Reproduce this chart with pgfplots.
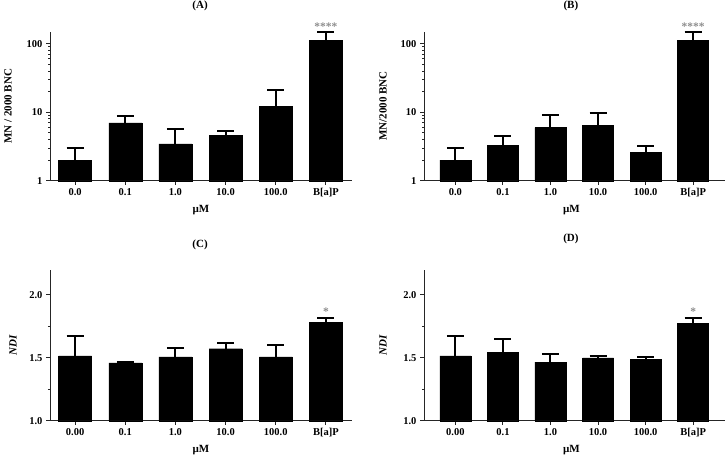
\documentclass[border=0pt]{standalone}
\usepackage{pgfplots}
\pgfplotsset{compat=1.18}
\usepackage{pgfplotstable}
\usepackage{fontspec}
\setmainfont{Liberation Serif}

\pgfplotstableread{
x y e
0 2.0 1.0
1 7.0 1.7
2 3.45 2.25
3 4.6 0.7
4 12.3 8.6
5 112 35
}\dataA
\pgfplotstableread{
x y e
0 2.0 1.0
1 3.25 1.25
2 5.95 3.05
3 6.5 3.1
4 2.62 0.62
5 112 35
}\dataB
\pgfplotstableread{
x y e
0 1.515 0.155
1 1.46 0.01
2 1.508 0.072
3 1.572 0.045
4 1.508 0.096
5 1.78 0.04
}\dataC
\pgfplotstableread{
x y e
0 1.515 0.155
1 1.542 0.104
2 1.466 0.068
3 1.500 0.016
4 1.487 0.023
5 1.776 0.043
}\dataD

\tikzset{stars/.style={text=black!45, font=\fontsize{11.5}{12}\selectfont\bfseries, inner sep=0pt}}

\pgfplotsset{
  panel/.style={
    scale only axis,
    axis lines=left,
    axis line style={line width=1pt,-,black!85},
    tick style={line width=1pt,black!85},
    tick align=outside,
    major tick length=4pt,
    minor tick length=2pt,
    xtick={0,...,5},
    clip=false,
    ticklabel style={font=\fontsize{10.5}{12}\selectfont\bfseries},
    label style={font=\fontsize{11}{13}\selectfont\bfseries},
    title style={font=\fontsize{11}{12}\selectfont\bfseries, anchor=center},
    ylabel style={anchor=center},
    xlabel style={anchor=center},
  },
  barstyle/.style={
    ybar, fill=black, draw=black,
    error bars/.cd, y dir=plus, y explicit,
    error bar style={line width=2pt, black},
    error mark options={rotate=90, line width=2pt, black, mark size=8.5pt},
  },
}

\begin{document}
\begin{tikzpicture}
\useasboundingbox (0,0) rectangle (727pt,456pt);

% (A)
\begin{axis}[panel,
  at={(50pt,275.3pt)}, anchor=south west,
  width=302pt, height=149pt,
  ymode=log, ymin=1, ymax=150,
  ytick={1,10,100}, yticklabels={1,10,100},
  xmin=-0.5, xmax=5.52,
  xticklabels={0.0,0.1,1.0,10.0,100.0,B[a]P},
  bar width=33pt,
  title={(A)}, title style={at={(axis description cs:0.497,1.132)}},
  ylabel={MN / 2000 BNC}, ylabel style={at={(axis description cs:-0.139,0.5)}},
  xlabel={µM}, xlabel style={at={(axis description cs:0.5,-0.197)}},
]
\addplot[barstyle] table[x=x,y=y,y error=e] {\dataA};
\node[stars] at (axis cs:5,147) [yshift=6pt] {****};
\end{axis}

% (B)
\begin{axis}[panel,
  at={(424pt,275.3pt)}, anchor=south west,
  width=301pt, height=149pt,
  ymode=log, ymin=1, ymax=150,
  ytick={1,10,100}, yticklabels={1,10,100},
  xmin=-0.66, xmax=5.67,
  xticklabels={0.0,0.1,1.0,10.0,100.0,B[a]P},
  bar width=31pt,
  title={(B)}, title style={at={(axis description cs:0.488,1.132)}},
  ylabel={MN/2000 BNC}, ylabel style={at={(axis description cs:-0.136,0.5)}},
  xlabel={µM}, xlabel style={at={(axis description cs:0.49,-0.197)}},
]
\addplot[barstyle] table[x=x,y=y,y error=e] {\dataB};
\node[stars] at (axis cs:5,147) [yshift=6pt] {****};
\end{axis}

% (C)
\begin{axis}[panel,
  at={(50pt,35.3pt)}, anchor=south west,
  width=302pt, height=151pt,
  ymin=1.0, ymax=2.2,
  ytick={1.0,1.5,2.0}, yticklabels={1.0,1.5,2.0},
  minor ytick={1.25,1.75},
  xmin=-0.5, xmax=5.52,
  xticklabels={0.00,0.1,1.0,10.0,100.0,B[a]P},
  bar width=33pt,
  title={(C)}, title style={at={(axis description cs:0.497,1.124)}},
  ylabel={\itshape NDI}, ylabel style={at={(axis description cs:-0.1225,0.5)}},
  xlabel={µM}, xlabel style={at={(axis description cs:0.5,-0.194)}},
]
\addplot[barstyle] table[x=x,y=y,y error=e] {\dataC};
\node[stars] at (axis cs:5,1.82) [yshift=6pt] {*};
\end{axis}

% (D)
\begin{axis}[panel,
  at={(424pt,35.3pt)}, anchor=south west,
  width=301pt, height=151pt,
  ymin=1.0, ymax=2.2,
  ytick={1.0,1.5,2.0}, yticklabels={1.0,1.5,2.0},
  minor ytick={1.25,1.75},
  xmin=-0.66, xmax=5.67,
  xticklabels={0.00,0.1,1.0,10.0,100.0,B[a]P},
  bar width=31pt,
  title={(D)}, title style={at={(axis description cs:0.488,1.164)}},
  ylabel={\itshape NDI}, ylabel style={at={(axis description cs:-0.136,0.5)}},
  xlabel={µM}, xlabel style={at={(axis description cs:0.49,-0.194)}},
]
\addplot[barstyle] table[x=x,y=y,y error=e] {\dataD};
\node[stars] at (axis cs:5,1.819) [yshift=6pt] {*};
\end{axis}
\end{tikzpicture}
\end{document}
